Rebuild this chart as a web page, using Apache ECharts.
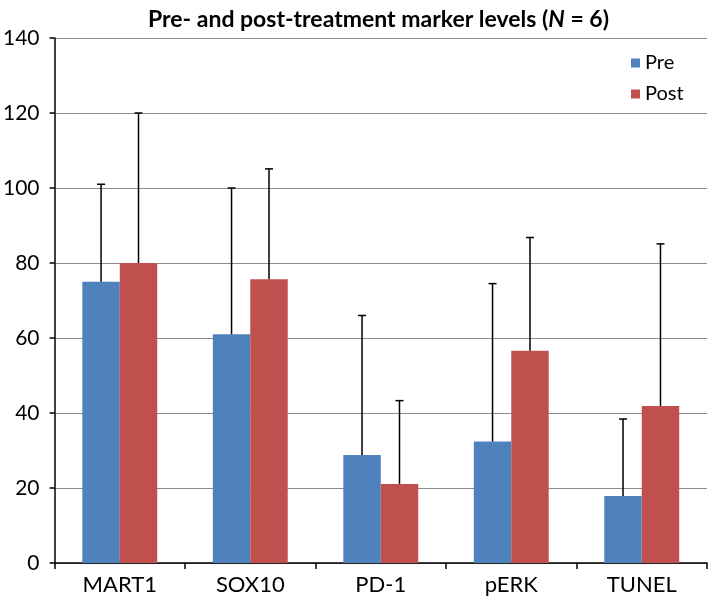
<!DOCTYPE html>
<html>
<head>
<meta charset="utf-8">
<script src="https://cdn.jsdelivr.net/npm/echarts@6/dist/echarts.min.js"></script>
<style>
  html, body { margin: 0; padding: 0; background: #fff; }
  #chart { width: 709px; height: 606px; }
</style>
</head>
<body>
<div id="chart"></div>
<script>
// values
const categories = ['MART1', 'SOX10', 'PD-1', 'pERK', 'TUNEL'];
const preMean = [75, 61, 28.8, 32.4, 17.9];
const postMean = [80, 75.7, 21.1, 56.6, 41.9];
const preUpper = [101, 100, 66, 74.5, 38.4];   // top of error bar
const postUpper = [120, 105.1, 43.3, 86.8, 85.1];

const FONT = 'Lato, "Open Sans", sans-serif';
const BAR_FRAC = 0.287; // bar width as share of category band

const chart = echarts.init(document.getElementById('chart'));

function errorItem(side) {
    return function (params, api) {
        const i = api.value(0);
        const top = api.coord([i, api.value(1)]);
        const base = api.coord([i, api.value(2)]);
        const band = api.size([1, 0])[0];
        const x = top[0] + side * band * BAR_FRAC / 2;
        const cap = 4;
        const style = { stroke: '#000', lineWidth: 1.5 };
        return {
            type: 'group',
            children: [
                { type: 'line', shape: { x1: x, y1: base[1], x2: x, y2: top[1] }, style: style },
                { type: 'line', shape: { x1: x - cap, y1: top[1], x2: x + cap, y2: top[1] }, style: style }
            ]
        };
    };
}

const option = {
    animation: false,
    title: {
        text: 'Pre- and post-treatment marker levels ({i|N} = 6)',
        left: 143,
        top: 3,
        textStyle: {
            fontFamily: FONT, fontSize: 23, fontWeight: 'bold', color: '#000',
            rich: { i: { fontFamily: FONT, fontSize: 23, fontWeight: 'bold', fontStyle: 'italic', color: '#000' } }
        }
    },
    legend: {
        orient: 'vertical',
        left: 626,
        top: 48,
        itemWidth: 9,
        itemHeight: 9,
        itemGap: 11,
        icon: 'rect',
        data: ['Pre', 'Post'],
        textStyle: { fontFamily: FONT, fontSize: 20, color: '#000' }
    },
    grid: { left: 53, right: 2, top: 38, bottom: 43, containLabel: false },
    xAxis: {
        type: 'category',
        data: categories,
        axisLine: { lineStyle: { color: '#000', width: 1.5 } },
        axisTick: { show: true, length: 6, lineStyle: { color: '#000', width: 1.5 } },
        axisLabel: { fontFamily: FONT, fontSize: 22, color: '#000', margin: 11 }
    },
    yAxis: {
        type: 'value',
        min: 0,
        max: 140,
        interval: 20,
        axisLine: { show: true, lineStyle: { color: '#000', width: 1.5 } },
        axisTick: { show: true, length: 5, lineStyle: { color: '#000', width: 1.5 } },
        axisLabel: { fontFamily: FONT, fontSize: 21, color: '#000', margin: 15 },
        splitLine: { lineStyle: { color: '#8c8c8c', width: 1.2 } }
    },
    series: [
        {
            name: 'Pre',
            type: 'bar',
            data: preMean,
            barWidth: (BAR_FRAC * 100) + '%',
            barGap: '0%',
            itemStyle: { color: '#4F81BD' }
        },
        {
            name: 'Post',
            type: 'bar',
            data: postMean,
            barWidth: (BAR_FRAC * 100) + '%',
            barGap: '0%',
            itemStyle: { color: '#C0504D' }
        },
        {
            type: 'custom',
            name: 'preErr',
            renderItem: errorItem(-1),
            data: categories.map((c, i) => [i, preUpper[i], preMean[i]]),
            z: 10
        },
        {
            type: 'custom',
            name: 'postErr',
            renderItem: errorItem(1),
            data: categories.map((c, i) => [i, postUpper[i], postMean[i]]),
            z: 10
        }
    ]
};

chart.setOption(option);
</script>
</body>
</html>
